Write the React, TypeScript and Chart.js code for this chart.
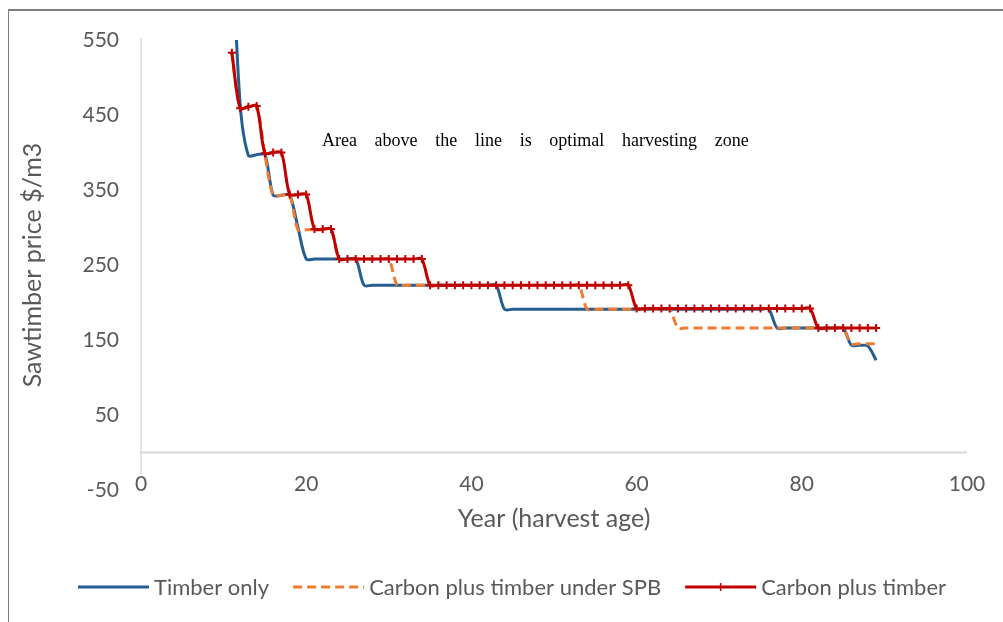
import React, { useEffect, useRef } from 'react';
import { Chart, registerables } from 'chart.js';

Chart.register(...registerables);

// ---------- data ----------
const years = [
  11, 12, 13, 14, 15, 16, 17, 18, 19, 20,
  21, 22, 23, 24, 25, 26, 27, 28, 29, 30,
  31, 32, 33, 34, 35, 36, 37, 38, 39, 40,
  41, 42, 43, 44, 45, 46, 47, 48, 49, 50,
  51, 52, 53, 54, 55, 56, 57, 58, 59, 60,
  61, 62, 63, 64, 65, 66, 67, 68, 69, 70,
  71, 72, 73, 74, 75, 76, 77, 78, 79, 80,
  81, 82, 83, 84, 85, 86, 87, 88, 89,
];

const timberOnly = [
  690, 465, 396, 397, 397, 343, 343, 343, 300, 258,
  258, 258, 258, 258, 258, 258, 223, 223, 223, 223,
  223, 223, 223, 223, 223, 223, 223, 223, 223, 223,
  223, 223, 223, 191, 191, 191, 191, 191, 191, 191,
  191, 191, 191, 191, 191, 191, 191, 191, 191, 191,
  191, 191, 191, 191, 191, 191, 191, 191, 191, 191,
  191, 191, 191, 191, 191, 191, 166, 166, 166, 166,
  166, 166, 166, 166, 166, 143, 143, 142, 123,
];

const carbonTimberSPB = [
  533, 459, 461, 462, 397, 343, 343, 343, 297, 297,
  297, 297, 297, 258, 258, 258, 258, 258, 258, 258,
  223, 223, 223, 223, 223, 223, 223, 223, 223, 223,
  223, 223, 223, 223, 223, 223, 223, 223, 223, 223,
  223, 223, 223, 191, 191, 191, 191, 191, 191, 191,
  191, 191, 191, 191, 166, 166, 166, 166, 166, 166,
  166, 166, 166, 166, 166, 166, 166, 166, 166, 166,
  166, 166, 166, 166, 166, 145, 145, 145, 145,
];

const carbonTimber = [
  533, 459, 461, 462, 399, 400, 400, 344, 344, 344,
  298, 298, 298, 258, 258, 258, 258, 258, 258, 258,
  258, 258, 258, 258, 223, 223, 223, 223, 223, 223,
  223, 223, 223, 223, 223, 223, 223, 223, 223, 223,
  223, 223, 223, 223, 223, 223, 223, 223, 223, 192,
  192, 192, 192, 192, 192, 192, 192, 192, 192, 192,
  192, 192, 192, 192, 192, 192, 192, 192, 192, 192,
  192, 166, 166, 166, 166, 166, 166, 166, 166,
];

const seriesLabels = ['Timber only', 'Carbon plus timber under SPB', 'Carbon plus timber'];
const seriesColors = ['#255E91', '#ED7D31', '#C00000'];
const yTickValues = [-50, 50, 150, 250, 350, 450, 550];
const xTickValues = [0, 20, 40, 60, 80, 100];
const xTitle = 'Year (harvest age)';
const yTitle = 'Sawtimber price $/m3';
const annotationText = 'Area above the line is optimal harvesting zone';
const annotationAt = { x: 21.9, y: 415 };

const SANS = 'Lato, "Open Sans", sans-serif';
const GREY = '#595959';

const toPoints = (vals: number[]) => years.map((yr, i) => ({ x: yr, y: vals[i] }));

const axisLinesPlugin = {
  id: 'axisLines',
  beforeDatasetsDraw(chart: any) {
    const { ctx, chartArea, scales } = chart;
    const y0 = scales.y.getPixelForValue(0);
    ctx.save();
    ctx.strokeStyle = '#D9D9D9';
    ctx.lineWidth = 2;
    ctx.beginPath();
    ctx.moveTo(chartArea.left, y0);
    ctx.lineTo(chartArea.right, y0);
    ctx.stroke();
    ctx.lineWidth = 1.5;
    ctx.beginPath();
    ctx.moveTo(chartArea.left, chartArea.top - 2);
    ctx.lineTo(chartArea.left, y0 + 22);
    ctx.stroke();
    ctx.restore();
  },
};

const annotationPlugin = {
  id: 'annotationText',
  afterDraw(chart: any) {
    const { ctx, scales } = chart;
    const x = scales.x.getPixelForValue(annotationAt.x);
    const y = scales.y.getPixelForValue(annotationAt.y);
    ctx.save();
    ctx.font = '18px "Liberation Serif", "Times New Roman", serif';
    ctx.fillStyle = '#000000';
    ctx.textBaseline = 'middle';
    ctx.textAlign = 'left';
    const words = annotationText.split(' ');
    const space = ctx.measureText(' ').width + 13.2;
    let cx = x;
    words.forEach((w) => {
      ctx.fillText(w, cx, y);
      cx += ctx.measureText(w).width + space;
    });
    ctx.restore();
  },
};

const legendPlugin = {
  id: 'customLegend',
  afterDraw(chart: any) {
    const { ctx } = chart;
    const ds = chart.data.datasets;
    ctx.save();
    ctx.font = '22px ' + SANS;
    const lineLen = 71;
    const gapText = 5;
    const gapItems = 24;
    const widths = ds.map((d: any) => ctx.measureText(d.label).width);
    const total = widths.reduce((a: number, b: number) => a + b, 0) + ds.length * (lineLen + gapText) + gapItems * (ds.length - 1);
    let x = (chart.width - total) / 2 + 6;
    const y = chart.height - 35;
    ds.forEach((d: any, i: number) => {
      ctx.strokeStyle = d.borderColor;
      ctx.lineWidth = d.borderWidth;
      ctx.setLineDash(d.borderDash || []);
      ctx.beginPath();
      ctx.moveTo(x, y);
      ctx.lineTo(x + lineLen, y);
      ctx.stroke();
      ctx.setLineDash([]);
      if (d.pointStyle === 'cross') {
        ctx.lineWidth = 1.5;
        ctx.beginPath();
        ctx.moveTo(x + lineLen / 2, y - 4);
        ctx.lineTo(x + lineLen / 2, y + 4);
        ctx.stroke();
      }
      x += lineLen + gapText;
      ctx.fillStyle = GREY;
      ctx.textBaseline = 'middle';
      ctx.textAlign = 'left';
      ctx.fillText(d.label, x, y + 1);
      x += widths[i] + gapItems;
    });
    ctx.restore();
  },
};

export default function App() {
  const canvasRef = useRef<HTMLCanvasElement | null>(null);

  useEffect(() => {
    if (!canvasRef.current) return;
    const chart = new Chart(canvasRef.current, {
      type: 'line',
      data: {
        datasets: [
          {
            label: seriesLabels[0],
            data: toPoints(timberOnly),
            borderColor: seriesColors[0],
            backgroundColor: seriesColors[0],
            borderWidth: 3,
            pointRadius: 0,
            tension: 0.3,
            order: 2,
          },
          {
            label: seriesLabels[1],
            data: toPoints(carbonTimberSPB),
            borderColor: seriesColors[1],
            backgroundColor: seriesColors[1],
            borderWidth: 3,
            borderDash: [9, 5],
            pointRadius: 0,
            tension: 0.3,
            order: 1,
          },
          {
            label: seriesLabels[2],
            data: toPoints(carbonTimber),
            borderColor: seriesColors[2],
            backgroundColor: seriesColors[2],
            borderWidth: 3,
            pointStyle: 'cross',
            pointRadius: 4,
            pointBorderWidth: 2,
            pointBorderColor: seriesColors[2],
            tension: 0.3,
            order: 0,
          },
        ],
      },
      options: {
        responsive: false,
        animation: false,
        layout: { padding: { top: 29, right: 36, bottom: 91, left: 0 } },
        plugins: {
          legend: { display: false },
          tooltip: { enabled: false },
        },
        scales: {
          x: {
            type: 'linear',
            min: 0,
            max: 100,
            afterBuildTicks: (s: any) => { s.ticks = xTickValues.map((v) => ({ value: v })); },
            afterFit: (s: any) => {
              s.height = 41;
              s.paddingLeft = 0;
              s.paddingRight = 0;
              s.paddingTop = 0;
              s.paddingBottom = 0;
            },
            grid: { display: false, drawTicks: false },
            border: { display: false },
            ticks: { color: GREY, mirror: true, padding: -7, font: { family: SANS, size: 21 }, maxRotation: 0 },
            title: { display: true, text: xTitle, color: GREY, padding: { top: 0, bottom: -3 }, font: { family: SANS, size: 25 } },
          },
          y: {
            type: 'linear',
            min: -50,
            max: 550,
            afterBuildTicks: (s: any) => { s.ticks = yTickValues.map((v) => ({ value: v })); },
            afterFit: (s: any) => {
              s.width = 132;
              s.paddingLeft = 0;
              s.paddingRight = 0;
              s.paddingTop = 0;
              s.paddingBottom = 0;
            },
            grid: { display: false, drawTicks: false },
            border: { display: false },
            ticks: { color: GREY, padding: 22, font: { family: SANS, size: 21 } },
            title: { display: true, text: yTitle, color: GREY, padding: { top: 9, bottom: 0 }, font: { family: SANS, size: 25 } },
          },
        },
      },
      plugins: [axisLinesPlugin, annotationPlugin, legendPlugin],
    });
    return () => chart.destroy();
  }, []);

  return (
    <div
      style={{
        position: 'fixed',
        left: 8,
        top: 9,
        width: 995,
        height: 613,
        boxSizing: 'border-box',
        borderTop: '2px solid #7F7F7F',
        borderLeft: '1px solid #7F7F7F',
        background: '#FFFFFF',
      }}
    >
      <canvas ref={canvasRef} width={994} height={611} style={{ display: 'block' }} />
    </div>
  );
}
